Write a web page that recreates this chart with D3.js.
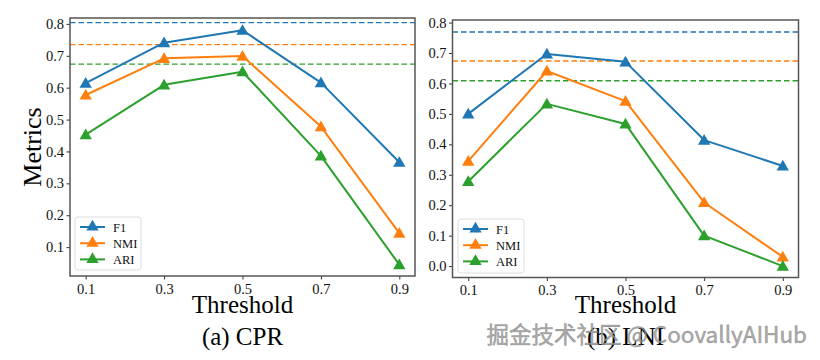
<!DOCTYPE html>
<html><head><meta charset="utf-8">
<script src="https://cdn.jsdelivr.net/npm/d3@7"></script>
<style>body{margin:0;background:#fff}svg{display:block}</style>
</head><body>
<svg id="c" width="820" height="360"></svg>
<script>
const thresholds = [0.1, 0.3, 0.5, 0.7, 0.9];
const seriesNames = ["F1", "NMI", "ARI"];
const colors = ["#1f77b4", "#ff7f0e", "#2ca02c"];

const cprF1  = [0.614, 0.741, 0.780, 0.616, 0.366];
const cprNMI = [0.577, 0.692, 0.699, 0.478, 0.144];
const cprARI = [0.453, 0.609, 0.650, 0.386, 0.045];
const cprBaselines = [0.804, 0.735, 0.674];
const cprYTicks = [0.1, 0.2, 0.3, 0.4, 0.5, 0.6, 0.7, 0.8];

const lniF1  = [0.500, 0.697, 0.671, 0.414, 0.329];
const lniNMI = [0.345, 0.641, 0.542, 0.209, 0.030];
const lniARI = [0.278, 0.533, 0.467, 0.100, 0.000];
const lniBaselines = [0.769, 0.674, 0.609];
const lniYTicks = [0.0, 0.1, 0.2, 0.3, 0.4, 0.5, 0.6, 0.7, 0.8];

const xTickLabels = ["0.1", "0.3", "0.5", "0.7", "0.9"];

const svg = d3.select("#c");
const serif = "'Liberation Serif','Times New Roman',serif";

function panel(cfg) {
  const {x0, x1, y0, y1, yDomain, yTicks, series, baselines, title, legend, ylabel} = cfg;
  const g = svg.append("g");
  const x = d3.scaleLinear().domain([0.06, 0.94]).range([x0, x1]);
  const y = d3.scaleLinear().domain(yDomain).range([y1, y0]);

  baselines.forEach((b, i) => {
    g.append("line").attr("x1", x0).attr("x2", x1).attr("y1", y(b)).attr("y2", y(b))
      .attr("stroke", colors[i]).attr("stroke-width", 1.4).attr("stroke-dasharray", "5.5,3");
  });

  const line = d3.line().x((d, i) => x(thresholds[i])).y(d => y(d));
  const tri = d3.symbol().type(d3.symbolTriangle).size(66);
  series.forEach((s, i) => {
    g.append("path").datum(s).attr("d", line).attr("fill", "none")
      .attr("stroke", colors[i]).attr("stroke-width", 2).attr("stroke-linejoin", "round");
    g.selectAll(null).data(s).enter().append("path")
      .attr("d", tri).attr("transform", (d, j) => `translate(${x(thresholds[j])},${y(d) + 1})`)
      .attr("fill", colors[i]);
  });

  const ax = g.append("g").attr("transform", `translate(0,${y1})`)
    .call(d3.axisBottom(x).tickValues(thresholds).tickFormat((d, i) => xTickLabels[i]).tickSize(3.5).tickPadding(4));
  const ay = g.append("g").attr("transform", `translate(${x0},0)`)
    .call(d3.axisLeft(y).tickValues(yTicks).tickFormat(d3.format(".1f")).tickSize(3.5).tickPadding(2.5));
  [ax, ay].forEach(a => {
    a.select(".domain").remove();
    a.selectAll("line").attr("stroke", "#333").attr("stroke-width", 1);
    a.selectAll("text").attr("font-family", serif).attr("font-size", 14.5).attr("fill", "#111");
  });
  g.append("rect").attr("x", x0).attr("y", y0).attr("width", x1 - x0).attr("height", y1 - y0)
    .attr("fill", "none").attr("stroke", "#555").attr("stroke-width", 1.5);

  const lg = g.append("g");
  lg.append("rect").attr("x", legend.x).attr("y", legend.y).attr("width", legend.w).attr("height", legend.h)
    .attr("rx", 3).attr("fill", "#fff").attr("fill-opacity", 0.85).attr("stroke", "#ddd").attr("stroke-width", 1);
  seriesNames.forEach((n, i) => {
    const yy = legend.y + 10 + i * 16.2;
    lg.append("line").attr("x1", legend.x + 5).attr("x2", legend.x + 30).attr("y1", yy).attr("y2", yy)
      .attr("stroke", colors[i]).attr("stroke-width", 2);
    lg.append("path").attr("d", tri).attr("transform", `translate(${legend.x + 17.5},${yy})`).attr("fill", colors[i]);
    lg.append("text").attr("x", legend.x + 38).attr("y", yy + 4.5).text(n)
      .attr("font-family", serif).attr("font-size", 12.5).attr("fill", "#111");
  });

  const cx = (x0 + x1) / 2;
  g.append("text").attr("x", cx).attr("y", 313).attr("text-anchor", "middle")
    .attr("font-family", serif).attr("font-size", 25).attr("fill", "#000").text("Threshold");
  g.append("text").attr("x", cx).attr("y", 345).attr("text-anchor", "middle")
    .attr("font-family", serif).attr("font-size", 25).attr("fill", "#000").text(title);
  if (ylabel) {
    g.append("text").attr("transform", `translate(41,${(y0 + y1) / 2}) rotate(-90)`).attr("text-anchor", "middle")
      .attr("font-family", serif).attr("font-size", 26).attr("fill", "#000").text(ylabel);
  }
}

panel({x0: 70, x1: 415, y0: 18, y1: 276, yDomain: [0.0095, 0.8185], yTicks: cprYTicks,
  series: [cprF1, cprNMI, cprARI], baselines: cprBaselines, title: "(a) CPR",
  legend: {x: 75, y: 217, w: 66, h: 53}, ylabel: "Metrics"});
panel({x0: 452.5, x1: 798.5, y0: 20, y1: 277.5, yDomain: [-0.0375, 0.8085], yTicks: lniYTicks,
  series: [lniF1, lniNMI, lniARI], baselines: lniBaselines, title: "(b) LNI",
  legend: {x: 458, y: 219, w: 66, h: 54}, ylabel: null});

// watermark
svg.append("text").attr("x", 807).attr("y", 343).attr("text-anchor", "end")
  .attr("font-family", "'Noto Sans CJK SC','Noto Sans',sans-serif").attr("font-size", 22.5)
  .attr("fill", "#a0a0a0").attr("fill-opacity", 0.85).attr("stroke", "#666").attr("stroke-opacity", 0.5).attr("stroke-width", 0.6)
  .text("掘金技术社区 @ CoovallyAIHub");
</script>
</body></html>
